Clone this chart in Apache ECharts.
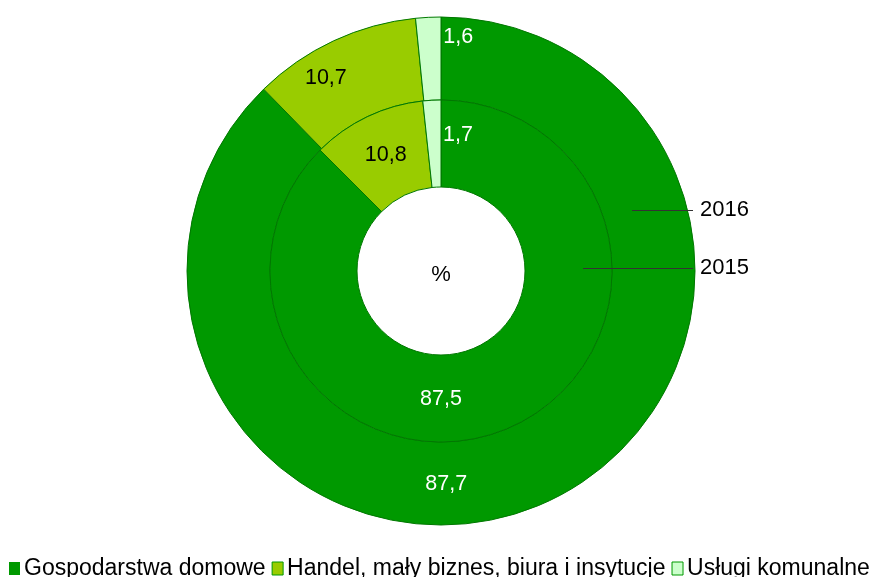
<!DOCTYPE html>
<html><head><meta charset="utf-8">
<script src="https://cdn.jsdelivr.net/npm/echarts@6/dist/echarts.min.js"></script>
<style>html,body{margin:0;padding:0;background:#fff}#c{width:871px;height:577px}</style>
</head><body><div id="c"></div>
<script>
const categories = ['Gospodarstwa domowe', 'Handel, mały biznes, biura i insytucje', 'Usługi komunalne'];
const values2016 = [87.7, 10.7, 1.6];
const values2015 = [87.5, 10.8, 1.7];
const seriesNames = ['2016', '2015'];

const colors = ['#009900', '#99cc00', '#ccffcc'];
const labelColors = ['#ffffff', '#000000', '#ffffff'];
const FONT = 'Liberation Sans';
const cx = 441, cy = 271;
const outerOffsets = [[-76, 13], [-24, 2], [28, -19]];
const innerOffsets = [[-50, 8], [1, 2], [24, -6]];

function mk(vals, offs) {
  return vals.map((v, i) => ({
    name: categories[i], value: v,
    label: { color: labelColors[i], offset: offs[i] }
  }));
}
const fmt = p => String(p.value).replace('.', ',');
const common = {
  type: 'pie', center: [cx, cy], startAngle: 90, clockwise: true,
  avoidLabelOverlap: false, silent: true, animation: false,
  itemStyle: { borderColor: '#007700', borderWidth: 1 },
  label: { show: true, position: 'inside', formatter: fmt, fontFamily: FONT, fontSize: 21.5 },
  labelLine: { show: false }, emphasis: { disabled: true }
};
const chart = echarts.init(document.getElementById('c'), null, { renderer: 'canvas' });
chart.setOption({
  color: colors,
  legend: {
    left: 4, top: 552, width: 1000, itemWidth: 11, itemHeight: 13, itemGap: 6,
    icon: 'rect', selectedMode: false,
    textStyle: { fontFamily: FONT, fontSize: 23, color: '#000', padding: [0, 0, 0, -1] },
    data: categories.map((c, i) => ({ name: c, itemStyle: { borderColor: '#009900', borderWidth: i === 0 ? 0 : 1 } }))
  },
  graphic: [
    { type: 'text', z: 100, style: { text: '%', x: cx, y: cy + 4, fontFamily: FONT, fontSize: 22, fill: '#000', align: 'center', verticalAlign: 'middle' } },
    { type: 'line', z: 100, shape: { x1: 632, y1: 210.5, x2: 693, y2: 210.5 }, style: { stroke: '#333', lineWidth: 1 } },
    { type: 'line', z: 100, shape: { x1: 583, y1: 268.5, x2: 693, y2: 268.5 }, style: { stroke: '#333', lineWidth: 1 } },
    { type: 'text', z: 100, style: { text: seriesNames[0], x: 700, y: 210, fontFamily: FONT, fontSize: 22, fill: '#000', verticalAlign: 'middle' } },
    { type: 'text', z: 100, style: { text: seriesNames[1], x: 700, y: 268, fontFamily: FONT, fontSize: 22, fill: '#000', verticalAlign: 'middle' } }
  ],
  series: [
    Object.assign({}, common, { name: seriesNames[0], radius: [171, 254], data: mk(values2016, outerOffsets) }),
    Object.assign({}, common, { name: seriesNames[1], radius: [84, 171], data: mk(values2015, innerOffsets) })
  ]
});
</script></body></html>
